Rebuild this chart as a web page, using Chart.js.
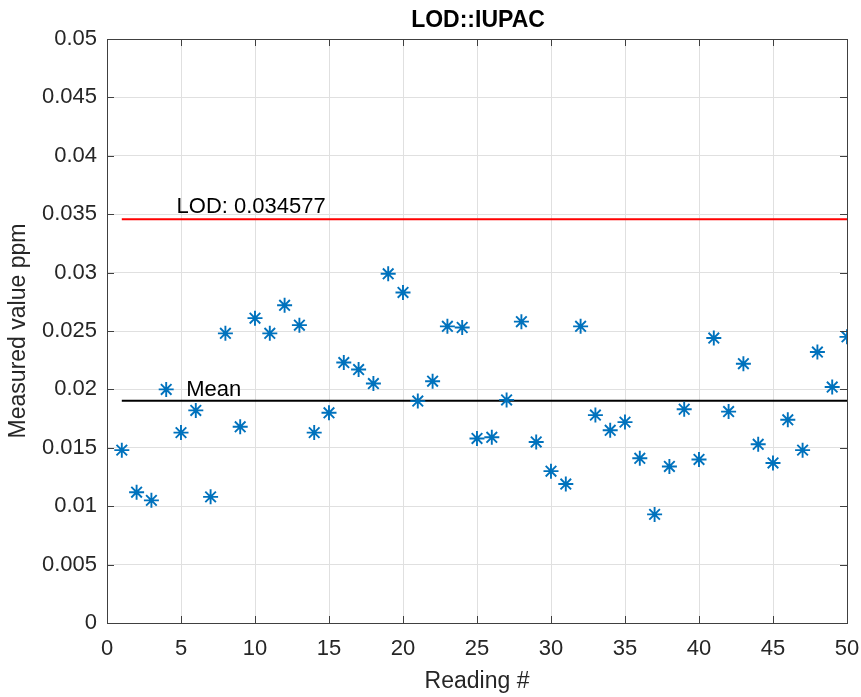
<!DOCTYPE html>
<html>
<head>
<meta charset="utf-8">
<script src="https://cdn.jsdelivr.net/npm/chart.js@4/dist/chart.umd.min.js"></script>
<style>
  body { margin: 0; background: #fff; }
  canvas { display: block; }
</style>
</head>
<body>
<canvas id="lod-chart" width="861" height="697"></canvas>
<script>
// Data
const readingNo = [1, 2, 3, 4, 5, 6, 7, 8, 9, 10, 11, 12, 13, 14, 15, 16, 17, 18, 19, 20,
  21, 22, 23, 24, 25, 26, 27, 28, 29, 30, 31, 32, 33, 34, 35, 36, 37, 38, 39, 40,
  41, 42, 43, 44, 45, 46, 47, 48, 49, 50];
const measured = [
  0.0148, 0.0112, 0.0105, 0.0200, 0.0163, 0.0182, 0.0108, 0.0248, 0.0168, 0.0261,
  0.0248, 0.0272, 0.0255, 0.0163, 0.0180, 0.0223, 0.0217, 0.0205, 0.0299, 0.0283,
  0.0190, 0.0207, 0.0254, 0.0253, 0.0158, 0.0159, 0.0191, 0.0258, 0.0155, 0.0130,
  0.0119, 0.0254, 0.0178, 0.0165, 0.0172, 0.0141, 0.0093, 0.0134, 0.0183, 0.0140,
  0.0244, 0.0181, 0.0222, 0.0153, 0.0137, 0.0174, 0.0148, 0.0232, 0.0202, 0.0245,
];
const LOD = 0.034577;
const LOD_LABEL = 'LOD: 0.034577';
const MEAN_LABEL = 'Mean';

const X_RANGE = [0, 50];
const Y_RANGE = [0, 0.05];
const X_STEP = 5;
const Y_STEP = 0.005;

const mean = measured.reduce((a, b) => a + b, 0) / measured.length;
const first = readingNo[0];
const last = readingNo[readingNo.length - 1];

const FONT = 'Liberation Sans, Arial, Helvetica, sans-serif';
const TXT = '#262626';
const AXIS = '#404040';

// ─── Plugins ────────────────────────────────────────────────────────────────
// box around plot + inward tick marks on all four sides (MATLAB style)
const boxPlugin = {
  id: 'box',
  afterDraw(chart) {
    const { ctx, chartArea: a, scales: { x, y } } = chart;
    const len = 7;
    ctx.save();
    ctx.strokeStyle = AXIS;
    ctx.lineWidth = 1;
    ctx.beginPath();
    x.ticks.forEach(t => {
      const px = Math.round(x.getPixelForValue(t.value)) + 0.5;
      ctx.moveTo(px, a.bottom); ctx.lineTo(px, a.bottom - len);
      ctx.moveTo(px, a.top); ctx.lineTo(px, a.top + len);
    });
    y.ticks.forEach(t => {
      const py = Math.round(y.getPixelForValue(t.value)) + 0.5;
      ctx.moveTo(a.left, py); ctx.lineTo(a.left + len, py);
      ctx.moveTo(a.right, py); ctx.lineTo(a.right - len, py);
    });
    ctx.stroke();
    ctx.strokeRect(Math.round(a.left) + 0.5, Math.round(a.top) + 0.5,
      Math.round(a.right - a.left), Math.round(a.bottom - a.top));
    ctx.restore();
  },
};

// line labels + chart title
const labelPlugin = {
  id: 'labels',
  afterDatasetsDraw(chart) {
    const { ctx, chartArea: a, scales: { x, y } } = chart;
    ctx.save();
    ctx.fillStyle = '#000';
    ctx.font = `22px ${FONT}`;
    ctx.textAlign = 'left';
    ctx.textBaseline = 'alphabetic';
    ctx.fillText(LOD_LABEL, x.getPixelForValue(4.7), y.getPixelForValue(LOD) - 6);
    ctx.fillText(MEAN_LABEL, x.getPixelForValue(5.35), y.getPixelForValue(mean) - 5);

    ctx.font = `bold 23px ${FONT}`;
    ctx.textAlign = 'center';
    ctx.textBaseline = 'middle';
    ctx.fillText('LOD::IUPAC', (a.left + a.right) / 2 + 1, 21);
    ctx.restore();
  },
};

// ─── Chart ──────────────────────────────────────────────────────────────────
new Chart(document.getElementById('lod-chart'), {
  type: 'scatter',
  data: {
    datasets: [
      {
        label: 'Readings',
        data: readingNo.map((n, i) => ({ x: n, y: measured[i] })),
        pointStyle: 'star',
        pointRadius: 7.5,
        borderColor: '#0072BD',
        backgroundColor: '#0072BD',
        pointBorderWidth: 1.9,
      },
      {
        type: 'line',
        label: 'LOD',
        data: [{ x: first, y: LOD }, { x: last, y: LOD }],
        borderColor: '#FF0000',
        borderWidth: 2,
        pointRadius: 0,
      },
      {
        type: 'line',
        label: 'Mean',
        data: [{ x: first, y: mean }, { x: last, y: mean }],
        borderColor: '#000000',
        borderWidth: 2,
        pointRadius: 0,
      },
    ],
  },
  options: {
    responsive: false,
    animation: false,
    layout: { padding: { top: 39, right: 14, left: 0, bottom: 0 } },
    plugins: { legend: { display: false }, tooltip: { enabled: false } },
    scales: {
      x: {
        type: 'linear',
        min: X_RANGE[0], max: X_RANGE[1],
        afterFit: s => { s.height = 74; s.paddingLeft = 0; s.paddingRight = 0; },
        afterBuildTicks: s => {
          s.ticks = [];
          for (let v = X_RANGE[0]; v <= X_RANGE[1]; v += X_STEP) s.ticks.push({ value: v });
        },
        grid: { color: '#e0e0e0', drawTicks: false },
        border: { color: AXIS },
        ticks: { color: TXT, padding: 13, font: { family: FONT, size: 22 }, maxRotation: 0 },
        title: {
          display: true, text: 'Reading #', color: TXT,
          font: { family: FONT, size: 23 }, padding: { top: 0, bottom: 2 },
        },
      },
      y: {
        type: 'linear',
        min: Y_RANGE[0], max: Y_RANGE[1],
        afterFit: s => { s.width = 107; s.paddingTop = 0; s.paddingBottom = 0; },
        afterBuildTicks: s => {
          s.ticks = [];
          for (let i = 0; i <= Math.round((Y_RANGE[1] - Y_RANGE[0]) / Y_STEP); i++) {
            s.ticks.push({ value: +(Y_RANGE[0] + i * Y_STEP).toFixed(4) });
          }
        },
        grid: { color: '#e0e0e0', drawTicks: false },
        border: { color: AXIS },
        ticks: {
          color: TXT, padding: 10, font: { family: FONT, size: 22 },
          callback: v => String(+v.toFixed(3)),
        },
        title: {
          display: true, text: 'Measured value ppm', color: TXT,
          font: { family: FONT, size: 23 }, padding: { top: 5, bottom: 0 },
        },
      },
    },
  },
  plugins: [boxPlugin, labelPlugin],
});
</script>
</body>
</html>
